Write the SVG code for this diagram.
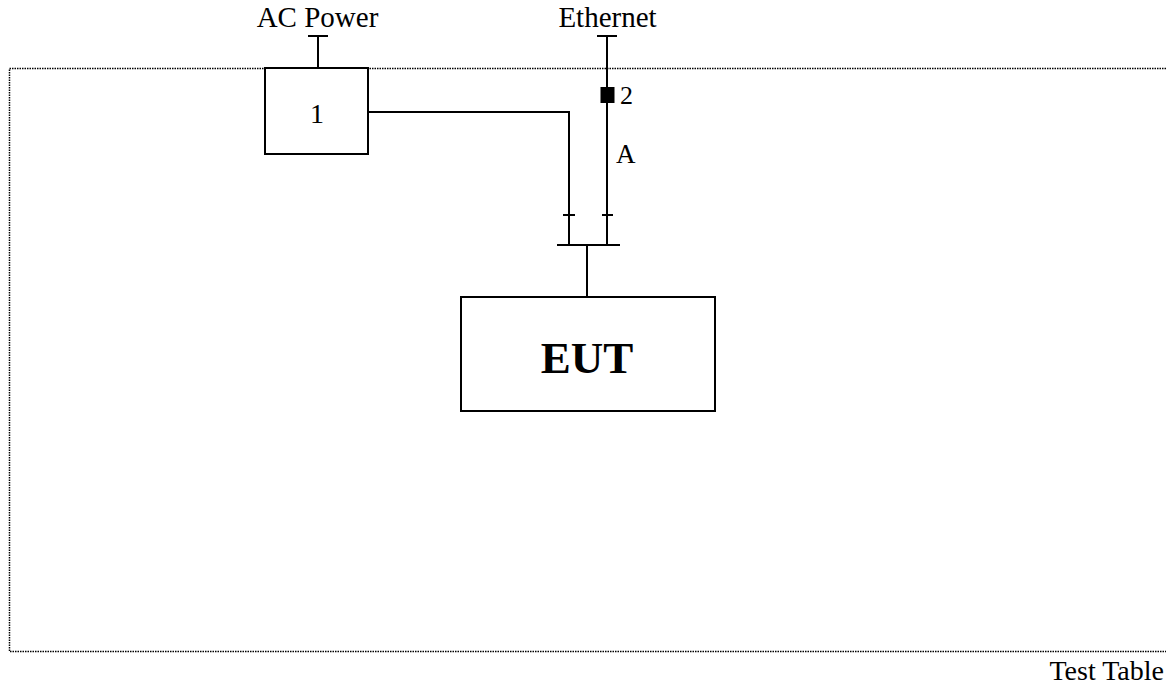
<svg xmlns="http://www.w3.org/2000/svg" width="1166" height="685" viewBox="0 0 1166 685">
<style>
.t{font-family:"Liberation Serif",serif;fill:#000}
.ln{stroke:#000;stroke-width:2;fill:none}
.bx{stroke:#000;stroke-width:2;fill:#fff}
.dot{stroke:#000;stroke-width:1.5;stroke-dasharray:1.5 1;fill:none}
</style>
<rect width="1166" height="685" fill="#fff"/>
<g id="table">
<path class="dot" d="M1166 68.5 H9.5 V651.5 H1166"/>
<text class="t" x="1164" y="680" font-size="28" text-anchor="end">Test Table</text>
</g>
<g id="connectors">
<path class="ln" d="M308 36 H328 M318 36 V68"/>
<path class="ln" d="M597 36 H617 M607 36 V245"/>
<path class="ln" d="M368 112 H569 V245"/>
<path class="ln" d="M563 215 H575 M602 215 H613"/>
<path class="ln" d="M557 245 H620" stroke-width="2.5"/>
<path class="ln" d="M587 245 V297"/>
<rect x="600.5" y="87" width="14" height="16" fill="#000"/>
<text class="t" x="620" y="103.5" font-size="26">2</text>
<text class="t" x="616" y="163" font-size="27">A</text>
</g>
<g id="ac">
<text class="t" x="317.5" y="27" font-size="29" text-anchor="middle">AC Power</text>
</g>
<g id="ethernet">
<text class="t" x="607.5" y="27" font-size="29" text-anchor="middle">Ethernet</text>
</g>
<g id="node1">
<rect class="bx" x="265" y="68" width="103" height="86"/>
<text class="t" x="317" y="122.5" font-size="28" text-anchor="middle">1</text>
</g>
<g id="eut">
<rect class="bx" x="461" y="297" width="254" height="114"/>
<text class="t" x="587" y="373" font-size="45" font-weight="bold" text-anchor="middle">EUT</text>
</g>
</svg>
